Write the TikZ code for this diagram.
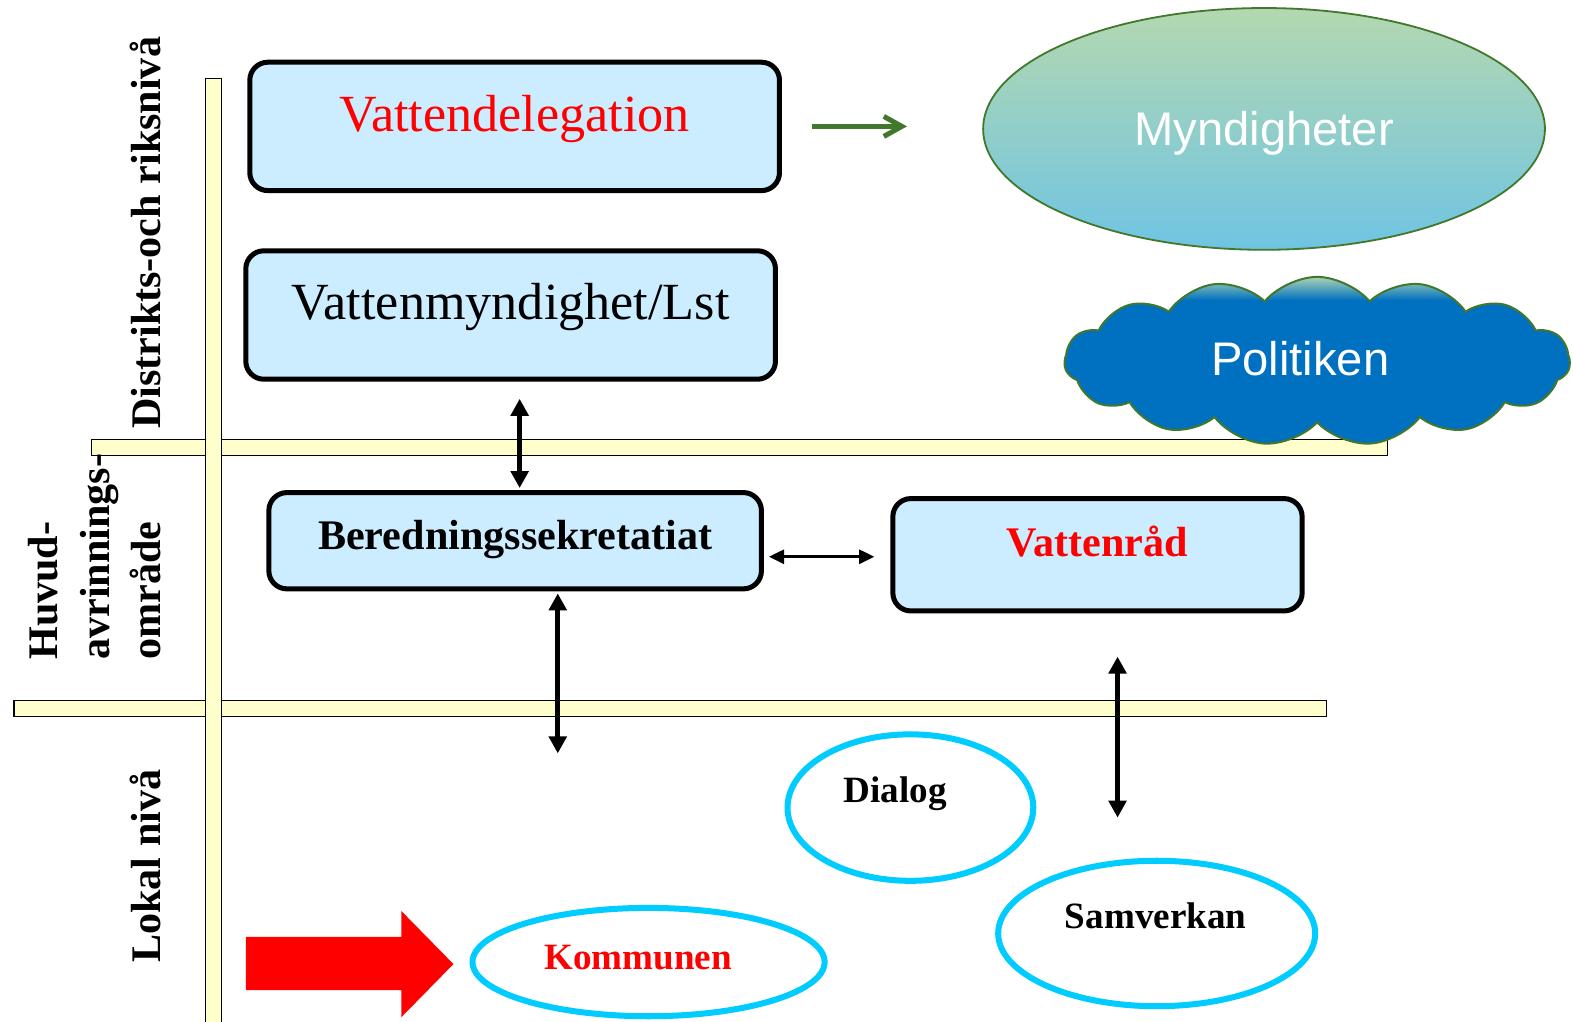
\documentclass[tikz,border=0pt]{standalone}
\usepackage{fontspec}
\setmainfont{Liberation Serif}
\newfontfamily\arialf{Liberation Sans}
\usetikzlibrary{arrows.meta,shapes.geometric,shapes.symbols,calc}
\definecolor{boxblue}{HTML}{CCECFF}
\definecolor{barfill}{HTML}{FFFFCC}
\definecolor{cyanline}{HTML}{00CCFF}
\definecolor{grn}{HTML}{41782B}
\definecolor{mgreen}{HTML}{B4D8B0}
\definecolor{mblue}{HTML}{6FC4E3}
\definecolor{cloudblue}{HTML}{0070C0}
\definecolor{cloudtop}{HTML}{A9D3B5}
\pgfdeclareverticalshading{cloudshade}{100bp}{color(0bp)=(cloudblue); color(25bp)=(cloudblue); color(68bp)=(cloudblue); color(75bp)=(cloudtop); color(100bp)=(cloudtop)}
\begin{document}
\begin{tikzpicture}[x=0.5pt,y=-0.5pt,
  bar/.style={fill=barfill, draw=black, line width=0.7pt},
  box/.style={draw=black, line width=2.5pt, fill=boxblue, rounded corners=9pt, inner xsep=0pt, inner ysep=0pt, anchor=base},
  dbl/.style={{Triangle[width=8.7pt,length=8.5pt]}-{Triangle[width=8.7pt,length=8.5pt]}, line width=2.5pt},
  dblthin/.style={{Triangle[width=7pt,length=7.5pt]}-{Triangle[width=7pt,length=7.5pt]}, line width=1.3pt},
  oval/.style={ellipse, draw=cyanline, line width=3pt, inner sep=0pt},
  lvl/.style={rotate=90, anchor=base west, inner sep=0pt, font=\bfseries\fontsize{21}{25}\selectfont},
  bigserif/.style={font=\fontsize{26}{30}\selectfont},
  boldserif/.style={font=\bfseries\fontsize{21}{25}\selectfont},
  ovaltext/.style={font=\bfseries\fontsize{18.5}{22}\selectfont},
  sanswhite/.style={text=white, font=\arialf\fontsize{23.5}{28}\selectfont}
]
\useasboundingbox (0,0) rectangle (1568,1018);

% level bars
\draw[bar] (91,438) rectangle (1383,454);
\draw[bar] (14,698) rectangle (1322,714);
\draw[bar] (205,78) rectangle (221,1030);

% level labels
\node[lvl] (L1) at (160,428) {Distrikts-och riksnivå};
\node[lvl] (L2a) at (57,658) {Huvud-};
\node[lvl] (L2b) at (109,658) {avrinnings-};
\node[lvl] (L2c) at (160,658) {område};
\node[lvl] (L3) at (160,960) {Lokal nivå};

% boxes
\node[box, bigserif, text=red, minimum width=264pt, text height=34.5pt, text depth=29.5pt] (VD) at (513,131) {Vattendelegation};
\node[box, bigserif, minimum width=264pt, text height=34pt, text depth=30pt] (VM) at (509,318) {Vattenmyndighet/Lst};
\node[box, boldserif, minimum width=245.5pt, text height=28.5pt, text depth=19.5pt] (BS) at (513.5,548) {Beredningssekretatiat};
\node[box, boldserif, text=red, minimum width=204pt, text height=29pt, text depth=27pt] (VR) at (1094,555) {Vattenråd};

% Myndigheter
\node[ellipse, draw=grn, line width=0.9pt, top color=mgreen, bottom color=mblue, minimum width=280pt, minimum height=120.5pt, inner sep=0pt, text depth=0pt, sanswhite] (MY) at (1260,128.5) {Myndigheter};

% Politiken cloud
\node[cloud, cloud puffs=15, cloud puff arc=100, aspect=3, draw=grn, line width=1pt, shade, shading=cloudshade, minimum width=252pt, minimum height=84pt, inner sep=0pt,
  label={[sanswhite, xshift=-8.5pt, yshift=1.5pt]center:Politiken}] (PO) at (1313,360) {};

% ovals
\node[oval, minimum width=122.5pt, minimum height=73pt, label={[ovaltext, xshift=-7.5pt, yshift=7pt]center:Dialog}] (DI) at (907.5,805) {};
\node[oval, minimum width=158pt, minimum height=72.5pt, label={[ovaltext, xshift=-0.5pt, yshift=9pt]center:Samverkan}] (SA) at (1153,930.5) {};
\node[oval, minimum width=175.5pt, minimum height=54pt, label={[ovaltext, text=red, xshift=-5.25pt, yshift=2.25pt]center:Kommunen}] (KO) at (646.5,959) {};

% red block arrow
\fill[red] (245,934) -- (400,934) -- (400,908) -- (452,961) -- (400,1014) -- (400,987) -- (245,987) -- cycle;

% connectors
\coordinate (BSend) at (556,751);
\coordinate (VRend) at (1114,815);
\draw[-{Straight Barb[length=9pt,width=10pt]}, draw=grn, line width=2.5pt] ($(VD.east)+(30,0)$) -- ($(MY.west)+(-75,-2.5)$);
\draw[dbl] ($(VM.south)+(9,17)$) -- ($(BS.north)+(4.5,-2)$);
\draw[dbl] ($(BS.south)+(42.5,2)$) -- (BSend);
\draw[dblthin] ($(BS.east)+(5,16)$) -- ($(VR.west)+(-16,2)$);
\draw[dbl] ($(VR.south)+(20,43)$) -- (VRend);
\end{tikzpicture}
\end{document}
